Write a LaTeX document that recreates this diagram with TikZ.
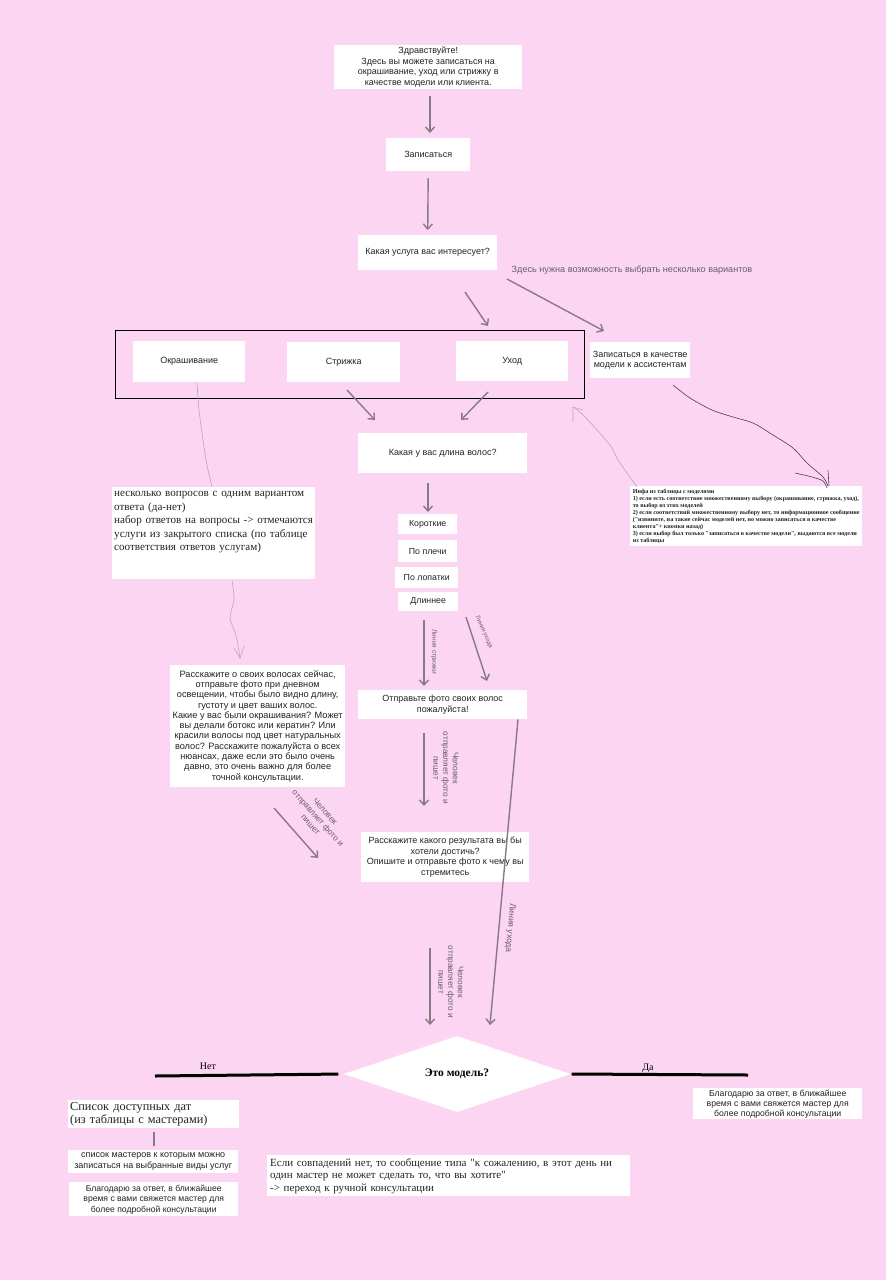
\documentclass[tikz,border=0pt]{standalone}
\usepackage{fontspec}
\setmainfont{Liberation Sans}
\newfontfamily\rmru{Liberation Serif}
\usetikzlibrary{arrows.meta,calc,shapes.geometric}
\definecolor{bg}{RGB}{252,213,242}
\definecolor{arrowc}{RGB}{135,122,132}
\definecolor{txt}{RGB}{35,35,35}
\definecolor{lbl}{RGB}{105,95,103}
\definecolor{pale}{RGB}{190,165,185}
\definecolor{dark}{RGB}{80,60,80}
\begin{document}
\begin{tikzpicture}[x=1pt,y=-1pt,
  box/.style={fill=white, inner sep=1pt, align=center, anchor=north west, text=txt, font=\fontsize{9}{10.8}\selectfont},
  sbox/.style={fill=white, inner sep=2pt, align=left, anchor=north west, text=txt},
  arr/.style={draw=arrowc, line width=1.4pt, -{Straight Barb[length=5pt,width=9pt]}},
  lab/.style={font=\fontsize{8.3}{9.8}\selectfont, text=lbl, align=center},
  thickline/.style={draw=black, line width=3pt},
]
\fill[bg] (0,0) rectangle (886,1280);
\useasboundingbox (0,0) rectangle (886,1280);

% top chain
\node[box, minimum width=188, minimum height=44, font=\fontsize{9}{10.5}\selectfont] (top) at (334,45) {Здравствуйте!\\Здесь вы можете записаться на\\окрашивание, уход или стрижку в\\качестве модели или клиента.};
\node[box, minimum width=84, minimum height=33] (zap) at (386,138) {Записаться};
\node[box, minimum width=139, minimum height=35] (q1) at (358,235) {Какая услуга вас интересует?};
\node[text=lbl, font=\fontsize{9.1}{10}\selectfont] (note1) at (632,270) {Здесь нужна возможность выбрать несколько вариантов};

% group
\node[draw=black, line width=1.3pt, minimum width=469, minimum height=68, anchor=north west, inner sep=0] (grp) at (115,330) {};
\node[box, minimum width=112, minimum height=41] (okr) at (133,341) {Окрашивание};
\node[box, minimum width=113, minimum height=40] (str) at (287,342) {Стрижка};
\node[box, minimum width=112, minimum height=40] (uhod) at (456,341) {Уход};
\node[box, minimum width=100, minimum height=36] (mod) at (590,342) {Записаться в качестве\\модели к ассистентам};

\node[box, minimum width=169, minimum height=40] (len) at (358,433) {Какая у вас длина волос?};
\node[box, minimum width=59, minimum height=20, font=\fontsize{8.8}{10}\selectfont] (b1) at (398,514) {Короткие};
\node[box, minimum width=59, minimum height=22, font=\fontsize{8.8}{10}\selectfont] (b2) at (398,540) {По плечи};
\node[box, minimum width=63, minimum height=21, font=\fontsize{8.8}{10}\selectfont] (b3) at (395,567) {По лопатки};
\node[box, minimum width=60, minimum height=19, font=\fontsize{8.8}{10}\selectfont] (b4) at (398,592) {Длиннее};

\node[box, minimum width=169, minimum height=29] (foto) at (358,690) {Отправьте фото своих волос\\пожалуйста!};
\node[box, minimum width=168, minimum height=50, font=\fontsize{9}{10.5}\selectfont] (res) at (361,832) {Расскажите какого результата вы бы\\хотели достичь?\\Опишите и отправьте фото к чему вы\\стремитесь};

% left boxes
\node[sbox, inner xsep=2pt, inner ysep=1pt, text width=199, minimum height=92, font=\rmru\fontsize{11.1}{13.5}\selectfont] (quest) at (112,487) {несколько вопросов с одним вариантом\\ответа (да-нет)\\набор ответов на вопросы -> отмечаются\\услуги из закрытого списка (по таблице\\соответствия ответов услугам)\\[11pt]\mbox{}};
\node[box, minimum width=175, minimum height=122, font=\fontsize{9.2}{10.3}\selectfont] (tell) at (170,665) {Расскажите о своих волосах сейчас,\\отправьте фото при дневном\\освещении, чтобы было видно длину,\\густоту и цвет ваших волос.\\Какие у вас были окрашивания? Может\\вы делали ботокс или кератин? Или\\красили волосы под цвет натуральных\\волос? Расскажите пожалуйста о всех\\нюансах, даже если это было очень\\давно, это очень важно для более\\точной консультации.};

% right note
\node[sbox, inner sep=2pt, minimum width=232, minimum height=60, font=\rmru\bfseries\fontsize{6.1}{7}\selectfont] (info) at (630,486) {Инфа из таблицы с моделями\\1) если есть соответствие множественному выбору (окрашивание, стрижка, уход),\\то выбор из этих моделей\\2) если соответствий множественному выбору нет, то информационное сообщение\\("извините, на такие сейчас моделей нет, но можно записаться в качестве\\клиента"+ кнопки назад)\\3) если выбор был только "записаться в качестве модели", выдаются все модели\\из таблицы};

% diamond and bottom
\node[diamond, fill=white, minimum width=227, minimum height=76, inner sep=0pt, font=\rmru\bfseries\fontsize{11.5}{13}\selectfont] (dm) at (457,1074) {Это модель?};
\coordinate (noend) at (155,1076);
\coordinate (yesend) at (748,1075);
\draw[thickline, shorten <=5pt] (dm.west) -- (noend);
\draw[thickline, shorten <=1pt] (dm.east) -- (yesend);
\node[font=\rmru\fontsize{10}{12}\selectfont] (net) at (208,1066) {Нет};
\node[font=\rmru\fontsize{10}{12}\selectfont] (da) at (648,1068) {Да};

\node[box, minimum width=169, minimum height=31, font=\fontsize{8.7}{10}\selectfont] (thx1) at (693,1088) {Благодарю за ответ, в ближайшее\\время с вами свяжется мастер для\\более подробной консультации};
\node[sbox, inner sep=2pt, minimum height=27, text width=167, font=\rmru\fontsize{12.3}{13.5}\selectfont] (dates) at (68,1100) {Список доступных дат\\(из таблицы с мастерами)};
\node[box, minimum width=170, minimum height=23, font=\fontsize{9}{10.5}\selectfont] (masters) at (68,1150) {список мастеров к которым можно\\записаться на выбранные виды услуг};
\node[box, minimum width=169, minimum height=34, font=\fontsize{8.6}{10.5}\selectfont] (thx2) at (69,1182) {Благодарю за ответ, в ближайшее\\время с вами свяжется мастер для\\более подробной консультации};
\draw[draw=arrowc, line width=2.5pt, shorten <=3pt, shorten >=4pt] (dates.south -| 154,0) -- (masters.north -| 154,0);
\node[sbox, inner sep=3pt, minimum height=39, text width=357, font=\rmru\fontsize{11}{12.5}\selectfont] (nomatch) at (267,1155) {Если совпадений нет, то сообщение типа "к сожалению, в этот день ни\\один мастер не может сделать то, что вы хотите"\\-> переход к ручной консультации};

% arrows
\draw[arr, shorten <=7pt, shorten >=5pt] (top.south -| 430,0) -- (zap.north -| 430,0);
\draw[arr, shorten <=7pt, shorten >=5pt] (zap.south) -- (q1.north);
\coordinate (a3s) at (465,292); \coordinate (a3e) at (488,326);
\draw[arr] (a3s) -- (a3e);
\coordinate (a4s) at (507,279); \coordinate (a4e) at (604,331);
\draw[arr] (a4s) -- (a4e);
\coordinate (a5s) at (347,390); \coordinate (a5e) at (375,420);
\draw[arr] (a5s) -- (a5e);
\coordinate (a6s) at (488,392); \coordinate (a6e) at (461,420);
\draw[arr] (a6s) -- (a6e);
\draw[arr, shorten <=10pt, shorten >=2pt] (len.south -| 428,0) -- (b1.north -| 428,0);
\coordinate (a8s) at (424,620); \coordinate (a8e) at (424,686);
\draw[arr] (a8s) -- (a8e);
\node[lab, rotate=-90, font=\fontsize{6.5}{7.5}\selectfont] (l8) at (434,652) {Линия стрижки};
\coordinate (a9s) at (466,617); \coordinate (a9e) at (487,681);
\draw[arr] (a9s) -- (a9e);
\node[lab, rotate=-66, font=\fontsize{6}{7}\selectfont] (l9) at (484,632) {Линия ухода};
\coordinate (a10s) at (424,733); \coordinate (a10e) at (424,806);
\draw[arr] (a10s) -- (a10e);
\node[lab, rotate=-90] (l10) at (446,768) {Человек\\отправляет фото и\\пишет};
\coordinate (a11s) at (274,808); \coordinate (a11e) at (318,858);
\draw[arr] (a11s) -- (a11e);
\node[lab, rotate=-48] (l11) at (318,818) {Человек\\отправляет фото и\\пишет};
\coordinate (a12s) at (430,948); \coordinate (a12e) at (430,1025);
\draw[arr] (a12s) -- (a12e);
\node[lab, rotate=-90] (l12) at (451,982) {Человек\\отправляет фото и\\пишет};
\coordinate (a13e) at (490,1025);
\draw[arr] (foto.south -| 518,0) -- (a13e);
\node[lab, rotate=-94.9, font=\fontsize{8.5}{9.5}\selectfont] (l13) at (510,928) {Линия ухода};

% hand-drawn pale lines
\draw[pale, line width=0.6pt] plot[smooth] coordinates {(197,383) (199,410) (203,440) (207,465) (212,487)};
\draw[pale, line width=0.6pt] plot[smooth] coordinates {(232,580) (234,600) (230,618) (236,635) (240,658)};
\draw[pale, line width=0.6pt] (234,648) -- (240,658) -- (244,646);
\draw[pale, line width=0.6pt] plot[smooth] coordinates {(637,487) (632,480) (618,460) (610,445) (597,430) (584,416) (575,408)};
\draw[pale, line width=0.6pt] (573,422) -- (573,407) -- (583,410);
% hand-drawn dark line
\draw[dark, line width=0.6pt] plot[smooth] coordinates {(673,385) (690,398) (712,410) (733,417) (753,423) (773,435) (793,448) (807,463) (823,477) (828,486)};
\draw[dark, line width=0.6pt] plot[smooth] coordinates {(795,473) (812,477) (823,481) (827,488)};
\draw[dark, line width=0.6pt] (828,470) -- (829,486);
\end{tikzpicture}
\end{document}
